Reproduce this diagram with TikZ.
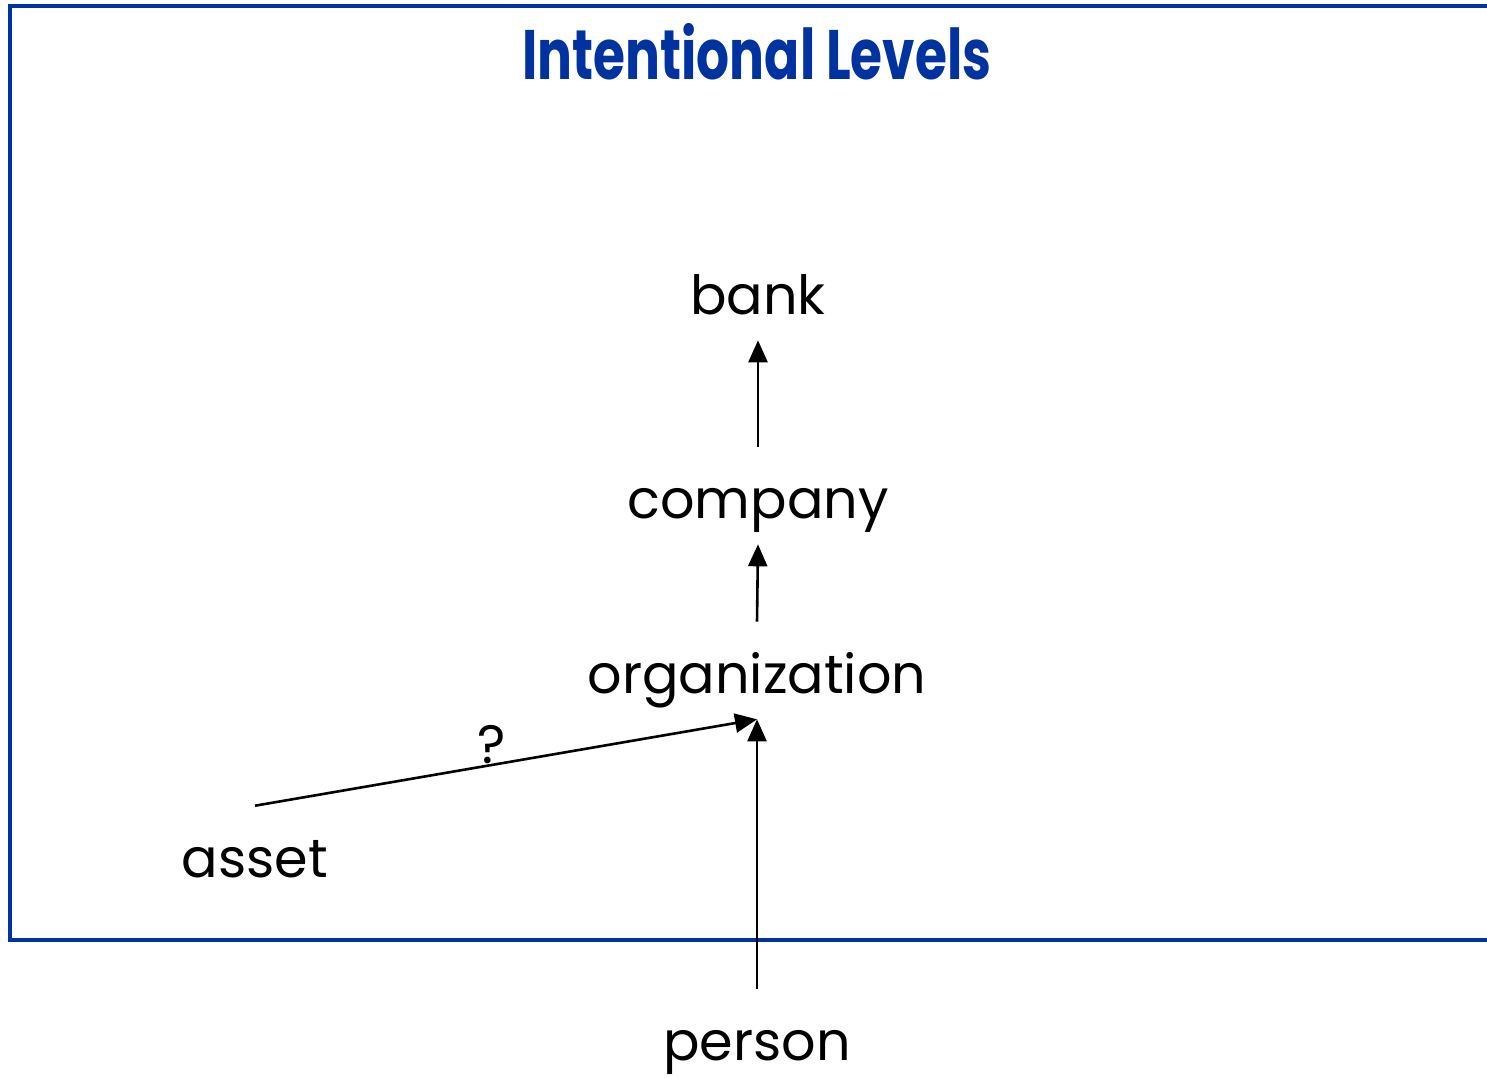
\documentclass[tikz,border=0pt]{standalone}
\usepackage{fontspec}
\setmainfont{Poppins}
\newfontfamily\titlefont[FakeStretch=0.74]{Poppins}
\usepackage{tikz}
\usetikzlibrary{arrows.meta,positioning}
\definecolor{slideblue}{RGB}{0,51,160}
\tikzset{
  level/.style={
    font=\fontsize{54}{60}\selectfont,
    inner sep=0pt,
    anchor=base,
    text height=70pt,
    text depth=25pt
  },
  heading/.style={
    font=\titlefont\bfseries\fontsize{70}{76}\selectfont,
    text=slideblue,
    inner sep=0pt,
    anchor=base
  },
  frame/.style={
    draw=slideblue,
    line width=3.2pt
  }
}

\begin{document}
\begin{tikzpicture}[x=1pt, y=-1pt, >={Triangle[length=22pt,width=19pt]},
  line width=2.6pt]
   \useasboundingbox (0,0) rectangle (1487,1077);
   \draw[frame] (10,6) rectangle (1520,940);

   \node[heading] (title) at (757,79) {Intentional Levels};

   \node[level] (bank) at (758,314) {bank};
   \node[level] (company) at (758,518) {company};
   \node[level] (organization) at (757,693) {organization};
   \node[level] (asset) at (255,877) {asset};
   \node[level] (person) at (757,1060) {person};

   \path[->] (company.north) edge (bank.south)
             (organization.north) edge (company.south)
             (person.north) edge (organization.south)
             (asset.north) edge node[pos=0.472, anchor=south, inner sep=0pt,
                  font=\fontsize{54}{60}\selectfont] (unsure) {?}
                  (organization.south);
\end{tikzpicture}
\end{document}
